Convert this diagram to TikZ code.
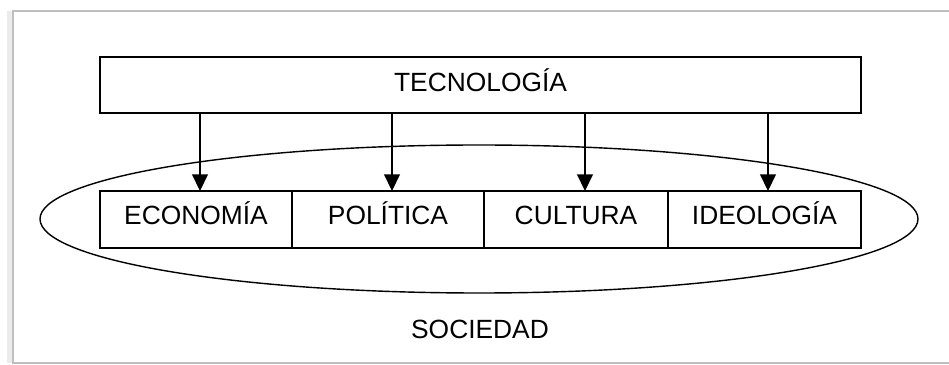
\documentclass[tikz,border=0pt]{standalone}
\usepackage{fontspec}
\setmainfont{Liberation Sans}
\usetikzlibrary{positioning,arrows.meta,shapes.geometric}

\tikzset{
  caja/.style={draw, line width=0.9pt, inner sep=0pt, outer sep=0pt, minimum height=1.14cm,
    font=\fontsize{15}{18}\selectfont, text height=0.38cm, text depth=0.16cm},
  flecha/.style={-{Triangle[width=9pt,length=9.5pt]}, line width=0.9pt},
}

\begin{document}
\begin{tikzpicture}
\useasboundingbox (0,0) rectangle (18.98,7.3);
% marco de la pagina
\draw [black!8, line width=3pt] (0.2,0.04) -- (0.2,7.08);
\draw [black!25, line width=0.8pt] (19.2,0.04) -- (0.26,0.04) -- (0.26,7.08) -- (19.2,7.08);

\node [caja, minimum width=15.22cm, minimum height=1.12cm, text depth=0.12cm] (tec) at (9.61,5.6) {TECNOLOG\'IA};

\node [draw, ellipse, line width=0.8pt, minimum width=17.56cm, minimum height=2.96cm] (soc) at (9.58,2.92) {};

\node [caja, minimum width=3.84cm] (eco) at (3.92,2.91) {ECONOM\'IA};
\node [caja, minimum width=3.84cm, right=0pt of eco] (pol) {POL\'ITICA};
\node [caja, minimum width=3.68cm, right=0pt of pol] (cul) {CULTURA};
\node [caja, minimum width=3.86cm, right=0pt of cul] (ide) {IDEOLOG\'IA};

\foreach \n/\dx in {eco/0.08, pol/0.08, cul/0.18, ide/0.07}
  \draw [flecha] ([xshift=\dx cm]\n.north |- tec.south) -- ([xshift=\dx cm]\n.north);

\node [font=\fontsize{15}{18}\selectfont, text height=0.38cm, text depth=0cm, inner sep=0pt] (etq) at (9.6,0.72) {SOCIEDAD};
\end{tikzpicture}
\end{document}
